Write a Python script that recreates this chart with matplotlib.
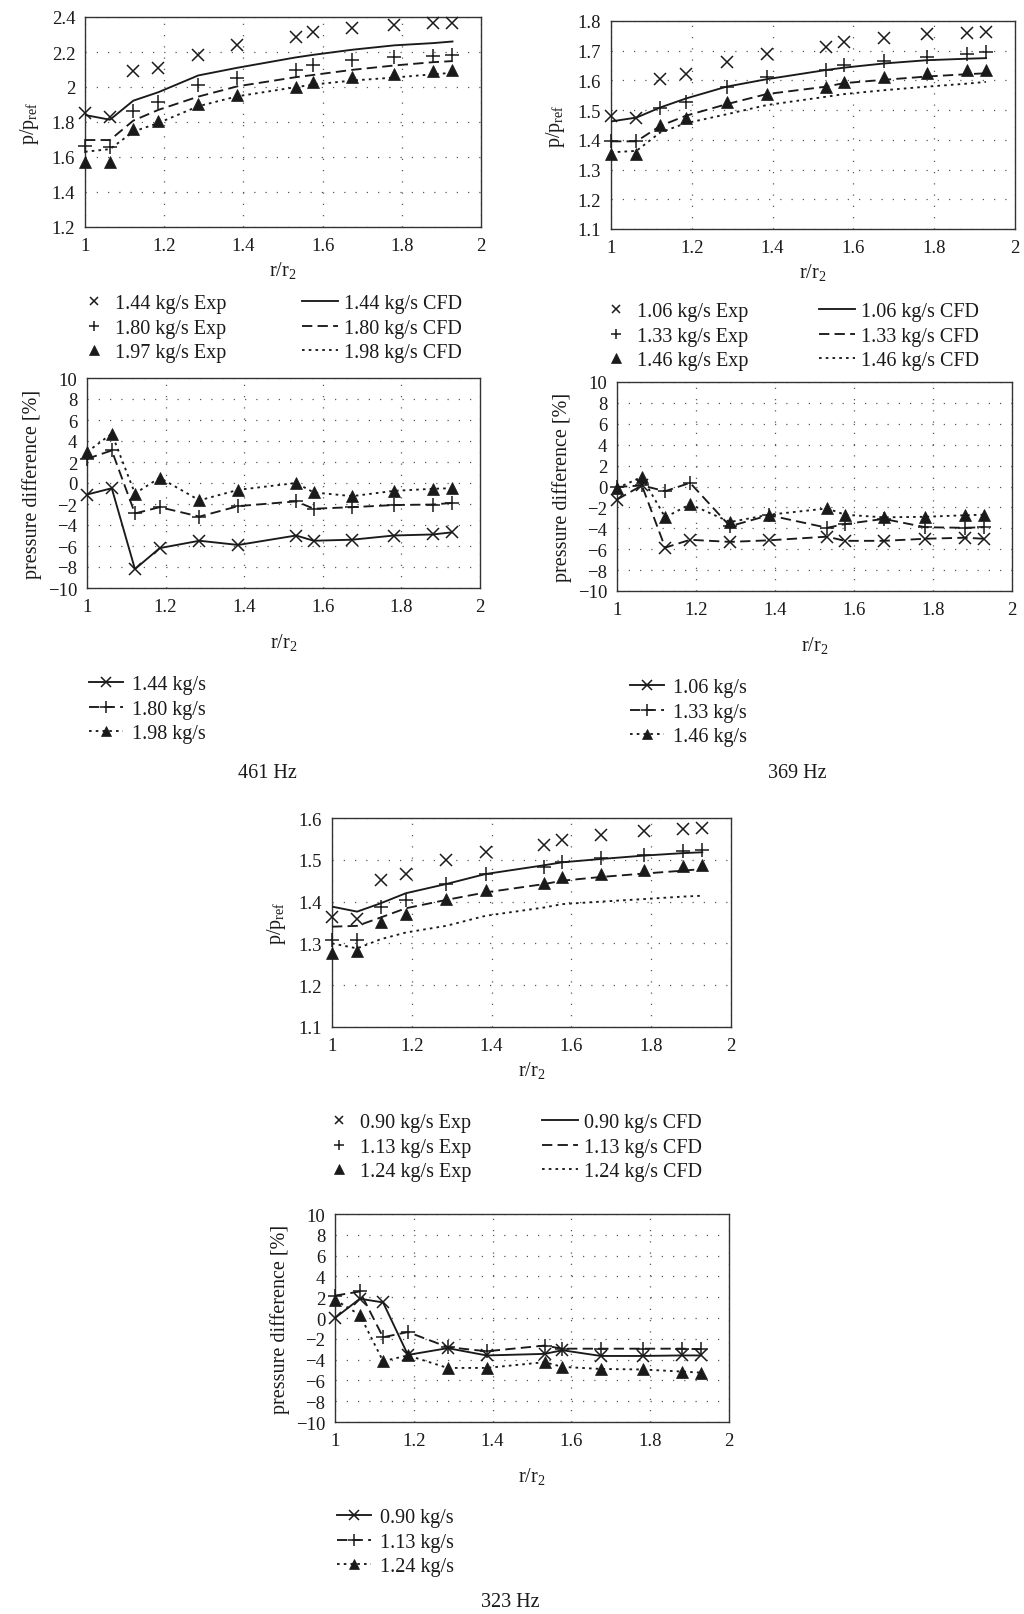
import numpy as np
import matplotlib
matplotlib.use('Agg')
import matplotlib.pyplot as plt
from matplotlib.lines import Line2D
from matplotlib.ticker import FuncFormatter

plt.rcParams['font.family'] = ['Liberation Serif', 'DejaVu Serif']
plt.rcParams['mathtext.fontset'] = 'custom'
plt.rcParams['mathtext.rm'] = 'Liberation Serif'
plt.rcParams['mathtext.it'] = 'Liberation Serif:italic'

W, H = 1024, 1615

# radial positions of the pressure taps
r = [1.0, 1.063, 1.122, 1.185, 1.286, 1.385, 1.532, 1.577, 1.675, 1.781, 1.88, 1.928]

# 461 Hz
exp_461_labels = ['1.44 kg/s Exp', '1.80 kg/s Exp', '1.97 kg/s Exp']
cfd_461_labels = ['1.44 kg/s CFD', '1.80 kg/s CFD', '1.98 kg/s CFD']
diff_461_labels = ['1.44 kg/s', '1.80 kg/s', '1.98 kg/s']
exp_461_a = [1.85, 1.827, 2.089, 2.11, 2.184, 2.241, 2.285, 2.314, 2.337, 2.356, 2.368, 2.368]
exp_461_b = [1.664, 1.655, 1.861, 1.913, 2.012, 2.052, 2.098, 2.123, 2.152, 2.169, 2.18, 2.184]
exp_461_c = [1.574, 1.574, 1.76, 1.806, 1.901, 1.957, 1.999, 2.027, 2.056, 2.075, 2.09, 2.10]
cfd_461_a = [1.84, 1.813, 1.922, 1.97, 2.066, 2.11, 2.169, 2.184, 2.213, 2.238, 2.251, 2.26]
cfd_461_b = [1.697, 1.697, 1.808, 1.869, 1.945, 2.004, 2.056, 2.069, 2.098, 2.123, 2.142, 2.148]
cfd_461_c = [1.63, 1.645, 1.745, 1.794, 1.89, 1.947, 1.999, 2.014, 2.037, 2.054, 2.073, 2.081]
diff_461_a = [-1.1, -0.5, -8.2, -6.2, -5.5, -5.9, -5.0, -5.5, -5.4, -5.0, -4.9, -4.7]
diff_461_b = [2.3, 3.1, -2.9, -2.3, -3.2, -2.2, -1.75, -2.45, -2.3, -2.1, -2.05, -1.9]
diff_461_c = [2.95, 4.7, -1.0, 0.5, -1.65, -0.65, 0.0, -0.9, -1.25, -0.75, -0.55, -0.5]

# 369 Hz
exp_369_labels = ['1.06 kg/s Exp', '1.33 kg/s Exp', '1.46 kg/s Exp']
cfd_369_labels = ['1.06 kg/s CFD', '1.33 kg/s CFD', '1.46 kg/s CFD']
diff_369_labels = ['1.06 kg/s', '1.33 kg/s', '1.46 kg/s']
exp_369_a = [1.481, 1.472, 1.604, 1.621, 1.663, 1.688, 1.714, 1.731, 1.744, 1.755, 1.761, 1.763]
exp_369_b = [1.397, 1.397, 1.507, 1.526, 1.579, 1.612, 1.634, 1.651, 1.666, 1.679, 1.688, 1.694]
exp_369_c = [1.352, 1.352, 1.451, 1.475, 1.526, 1.556, 1.579, 1.596, 1.61, 1.624, 1.634, 1.634]
cfd_369_a = [1.462, 1.475, 1.509, 1.539, 1.579, 1.604, 1.635, 1.643, 1.657, 1.668, 1.673, 1.675]
cfd_369_b = [1.395, 1.395, 1.447, 1.481, 1.52, 1.554, 1.579, 1.591, 1.602, 1.613, 1.621, 1.624]
cfd_369_c = [1.358, 1.363, 1.425, 1.456, 1.486, 1.517, 1.545, 1.554, 1.567, 1.579, 1.589, 1.595]
diff_369_a = [-1.25, 0.1, -5.85, -5.1, -5.3, -5.15, -4.8, -5.2, -5.2, -5.0, -4.9, -5.0]
diff_369_b = [-0.05, 0.1, -0.45, 0.35, -3.8, -2.75, -3.95, -3.6, -3.1, -3.9, -3.95, -3.9]
diff_369_c = [-0.15, 0.9, -2.95, -1.7, -3.4, -2.7, -2.1, -2.7, -2.95, -2.9, -2.75, -2.7]

# 323 Hz
exp_323_labels = ['0.90 kg/s Exp', '1.13 kg/s Exp', '1.24 kg/s Exp']
cfd_323_labels = ['0.90 kg/s CFD', '1.13 kg/s CFD', '1.24 kg/s CFD']
diff_323_labels = ['0.90 kg/s', '1.13 kg/s', '1.24 kg/s']
exp_323_a = [1.364, 1.358, 1.452, 1.466, 1.499, 1.518, 1.536, 1.548, 1.559, 1.568, 1.574, 1.575]
exp_323_b = [1.308, 1.308, 1.386, 1.404, 1.443, 1.466, 1.483, 1.494, 1.504, 1.512, 1.52, 1.524]
exp_323_c = [1.278, 1.281, 1.352, 1.37, 1.406, 1.428, 1.444, 1.458, 1.467, 1.476, 1.486, 1.488]
cfd_323_a = [1.388, 1.376, 1.396, 1.42, 1.442, 1.466, 1.487, 1.494, 1.502, 1.51, 1.516, 1.518]
cfd_323_b = [1.34, 1.342, 1.362, 1.384, 1.404, 1.422, 1.442, 1.45, 1.459, 1.467, 1.474, 1.478]
cfd_323_c = [1.30, 1.288, 1.31, 1.326, 1.342, 1.366, 1.386, 1.394, 1.40, 1.406, 1.412, 1.414]
diff_323_a = [0.0, 1.85, 1.5, -3.55, -2.9, -3.6, -3.45, -3.1, -3.65, -3.65, -3.6, -3.6]
diff_323_b = [2.15, 2.55, -1.85, -1.35, -2.8, -3.2, -2.65, -2.95, -2.95, -2.95, -2.95, -3.0]
diff_323_c = [1.75, 0.3, -4.15, -3.6, -4.8, -4.8, -4.25, -4.7, -4.9, -4.95, -5.15, -5.25]

FS = 14.5
TFS = 13.5
INK = '#1a1a1a'
SOLID = '-'
DASH = (0, (5.5, 2.8))
DOT = (0, (1.4, 2.2))
LW = 1.35

mk = {
    'x': dict(marker='x', markersize=8, markeredgewidth=1.1, color=INK),
    '+': dict(marker='+', markersize=9.5, markeredgewidth=1.1, color=INK),
    '^': dict(marker='^', markersize=8.5, markeredgewidth=0.5, color=INK),
}

fig = plt.figure(figsize=(W / 100, H / 100), dpi=100)


def axes_px(left, top, right, bottom):
    return fig.add_axes([left / W, 1 - bottom / H, (right - left) / W, (bottom - top) / H])


def fmt(v, pos):
    return ('%g' % round(v, 3)).replace('-', '\u2212')


def style(ax, ylim, yticks, ylabel, xpad, ypad):
    ax.set_xlim(1, 2)
    ax.set_xticks([1, 1.2, 1.4, 1.6, 1.8, 2])
    ax.set_ylim(*ylim)
    ax.set_yticks(yticks)
    ax.xaxis.set_major_formatter(FuncFormatter(fmt))
    ax.yaxis.set_major_formatter(FuncFormatter(fmt))
    ax.tick_params(length=0, labelsize=TFS, pad=7, colors=INK)
    ax.grid(True, linestyle=(0, (1, 8)), linewidth=0.9, color='0.35')
    ax.set_axisbelow(True)
    for s in ax.spines.values():
        s.set_color('0.2')
        s.set_linewidth(1.0)
    ax.set_xlabel(r'$\mathregular{r/r_2}$', fontsize=FS, labelpad=xpad, color=INK)
    ax.set_ylabel(ylabel, fontsize=FS, labelpad=ypad, color=INK)


def pressure_panel(ax, exps, cfds, ylim, yticks):
    for y, m in zip(exps, ['x', '+', '^']):
        ax.plot(r, y, ls='none', clip_on=False, zorder=4, **mk[m])
    for y, ls in zip(cfds, [SOLID, DASH, DOT]):
        ax.plot(r, y, ls=ls, lw=LW, color=INK, zorder=3)
    style(ax, ylim, yticks, r'$\mathregular{p/p_{ref}}$', 4, 8)


def diff_panel(ax, diffs, styles):
    for y, m, ls in zip(diffs, ['x', '+', '^'], styles):
        ax.plot(r, y, ls=ls, lw=LW, clip_on=False, zorder=3, **mk[m])
    style(ax, (-10, 10), np.arange(-10, 11, 2), 'pressure difference [%]', 12, 4)


def top_legends(exp_labels, cfd_labels, x_marker, x_line, y_mid):
    h1 = [Line2D([], [], ls='none', **mk[m]) for m in ['x', '+', '^']]
    fig.legend(h1, exp_labels, loc='center left', bbox_to_anchor=((x_marker - 10) / W, 1 - y_mid / H),
               frameon=False, borderpad=0, borderaxespad=0, handlelength=1.0, handletextpad=0.55,
               labelspacing=0.25, fontsize=FS, labelcolor=INK, markerscale=0.8)
    h2 = [Line2D([], [], ls=ls, lw=LW, color=INK) for ls in [SOLID, DASH, DOT]]
    fig.legend(h2, cfd_labels, loc='center left', bbox_to_anchor=(x_line / W, 1 - y_mid / H),
               frameon=False, borderpad=0, borderaxespad=0, handlelength=1.8, handletextpad=0.3,
               labelspacing=0.25, fontsize=FS, labelcolor=INK)


def bottom_legend(labels, x_line, y_mid):
    h = [Line2D([], [], ls=ls, lw=LW, **mk[m]) for m, ls in zip(['x', '+', '^'], [SOLID, DASH, DOT])]
    fig.legend(h, labels, loc='center left', bbox_to_anchor=(x_line / W, 1 - y_mid / H),
               frameon=False, borderpad=0, borderaxespad=0, handlelength=1.7, handletextpad=0.45,
               labelspacing=0.25, fontsize=FS, labelcolor=INK, markerscale=0.85)


# 461 Hz block
axA = axes_px(85, 18, 481, 228)
pressure_panel(axA, [exp_461_a, exp_461_b, exp_461_c], [cfd_461_a, cfd_461_b, cfd_461_c],
               (1.2, 2.4), np.arange(1.2, 2.41, 0.2))
top_legends(exp_461_labels, cfd_461_labels, 94, 302, 329)
axC = axes_px(87, 379, 480, 589)
diff_panel(axC, [diff_461_a, diff_461_b, diff_461_c], [SOLID, DASH, DOT])
bottom_legend(diff_461_labels, 89, 710)
fig.text(267 / W, 1 - 773 / H, '461 Hz', ha='center', va='center', fontsize=FS, color=INK)

# 369 Hz block
axB = axes_px(611, 22, 1015, 230)
pressure_panel(axB, [exp_369_a, exp_369_b, exp_369_c], [cfd_369_a, cfd_369_b, cfd_369_c],
               (1.1, 1.8), np.arange(1.1, 1.81, 0.1))
top_legends(exp_369_labels, cfd_369_labels, 616, 819, 337)
axD = axes_px(617, 383, 1012, 592)
diff_panel(axD, [diff_369_a, diff_369_b, diff_369_c], [DASH, DASH, DOT])
bottom_legend(diff_369_labels, 630, 713)
fig.text(797 / W, 1 - 773 / H, '369 Hz', ha='center', va='center', fontsize=FS, color=INK)

# 323 Hz block
axE = axes_px(332, 819, 731, 1028)
pressure_panel(axE, [exp_323_a, exp_323_b, exp_323_c], [cfd_323_a, cfd_323_b, cfd_323_c],
               (1.1, 1.6), np.arange(1.1, 1.61, 0.1))
top_legends(exp_323_labels, cfd_323_labels, 339, 542, 1148)
axF = axes_px(335, 1215, 729, 1423)
diff_panel(axF, [diff_323_a, diff_323_b, diff_323_c], [SOLID, DASH, DOT])
bottom_legend(diff_323_labels, 337, 1543)
fig.text(510 / W, 1 - 1603 / H, '323 Hz', ha='center', va='center', fontsize=FS, color=INK)

fig.savefig('out.png', dpi=100, facecolor='white')
